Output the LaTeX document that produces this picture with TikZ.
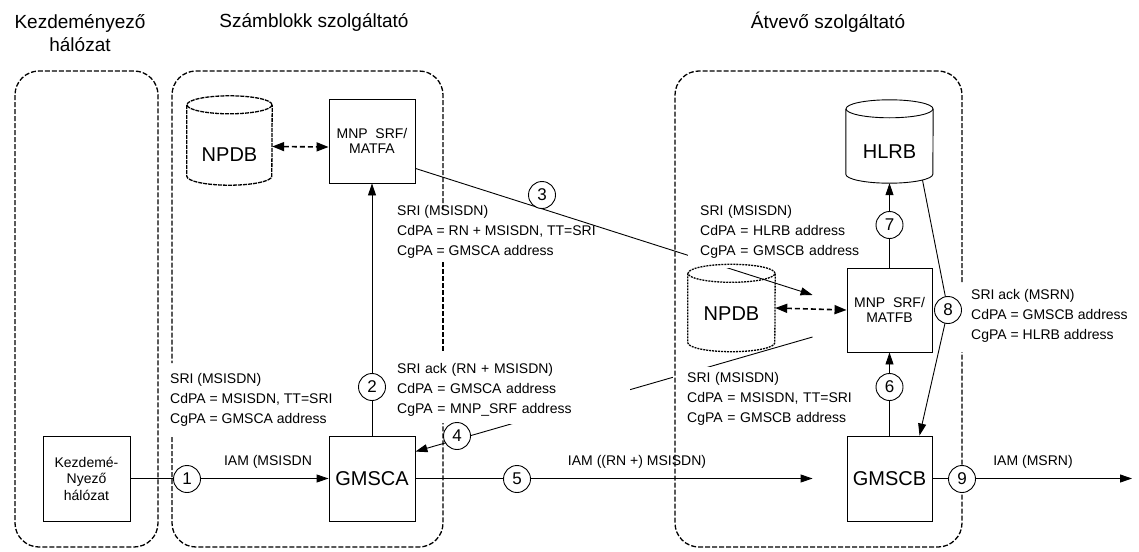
\documentclass[tikz,border=0pt]{standalone}
\usepackage{fontspec}
\setmainfont{Liberation Sans}
\usetikzlibrary{arrows.meta,calc}
\pgfdeclarelayer{bg}
\pgfdeclarelayer{lab}
\pgfsetlayers{bg,lab,main}
\newcommand\cylout[3]{%
  \draw[#3] ($(#1.north west)+(0,9)$) -- ($(#1.south west)+(0,-9)$)
     arc[start angle=180,end angle=360,x radius=#2,y radius=9pt] -- ($(#1.north east)+(0,9)$);
  \draw[#3] ($(#1.north)+(0,9)$) ellipse[x radius=#2, y radius=9pt];
}
\begin{document}
\begin{tikzpicture}[x=1pt,y=-1pt,
  box/.style={draw, line width=0.9pt, inner sep=0pt, align=center},
  small/.style={font=\fontsize{14}{15}\selectfont},
  big/.style={font=\fontsize{20}{24}\selectfont},
  cylbox/.style={inner sep=0pt, font=\fontsize{20}{24}\selectfont},
  num/.style={circle, draw, fill=white, line width=0.9pt, minimum size=27pt, inner sep=0pt, font=\fontsize{17}{17}\selectfont},
  lbl/.style={font=\fontsize{14}{20}\selectfont, align=left, inner sep=0pt, anchor=north west},
  mask/.style={font=\fontsize{14}{20}\selectfont, align=left, fill=white, inner ysep=0pt, anchor=north west},
  iam/.style={font=\fontsize{14}{16}\selectfont, inner sep=0pt},
  arr/.style={line width=0.9pt, -{Triangle[length=12pt,width=8pt]}},
  darr/.style={line width=1.6pt, dash pattern=on 5pt off 3pt, {Triangle[length=12pt,width=9pt]}-{Triangle[length=12pt,width=9pt]}},
  region/.style={line width=1.3pt, dash pattern=on 5pt off 2pt, rounded corners=24pt},
  title/.style={font=\fontsize{19}{23}\selectfont, align=center},
  npdbline/.style={line width=1.3pt, dash pattern=on 4pt off 1pt},
  npdbdot/.style={line width=1.3pt, dash pattern=on 2pt off 1pt},
  hlrbline/.style={line width=0.9pt}
]
\useasboundingbox (0,0) rectangle (1139,551);

% titles
\node[title] (t1) at (80,33.5) {Kezdeményező\\hálózat};
\node[title] (t2) at (314,22) {Számblokk szolgáltató};
\node[title] (t3) at (828,22) {Átvevő szolgáltató};

% regions
\draw[region] (15,71) rectangle (158,547);
\draw[region] (443,210) -- (443,71) -- (172,71) -- (172,363);
\draw[region] (172,437) -- (172,547) -- (443,547) -- (443,423);
\draw[region] (443,262) -- (443,352);
\draw[region] (962,282) -- (962,71) -- (675,71) -- (675,547) -- (962,547) -- (962,352);

% nodes
\node[box, font=\fontsize{14}{16.5}\selectfont, minimum width=87pt, minimum height=85pt] (kez) at (86.5,478.5) {Kezdemé-\\Nyező\\hálózat};
\node[box, big, minimum width=86pt, minimum height=85pt] (gmsca) at (372,478.5) {GMSCA};
\node[box, small, minimum width=86pt, minimum height=84pt] (matfa) at (372,141) {MNP\ \ SRF/\\MATFA};
\node[box, big, minimum width=85pt, minimum height=85pt] (gmscb) at (889.5,478.5) {GMSCB};
\node[box, small, minimum width=85pt, minimum height=84pt] (matfb) at (889.5,310) {MNP\ \ SRF/\\MATFB};
\node[cylbox, minimum width=85pt, minimum height=89pt, text height=41pt] (npdbL) at (229.5,140.5) {NPDB};
\node[cylbox, minimum width=87pt, minimum height=83pt, text height=34pt] (hlrb) at (889.5,141.5) {HLRB};
\node[cylbox, minimum width=87pt, minimum height=87pt, text height=24pt] (npdbR) at (731.5,308) {NPDB};
\cylout{npdbL}{42.5pt}{npdbline}
\cylout{hlrb}{43.5pt}{hlrbline}
\cylout{npdbR}{43.5pt}{npdbdot}

% background connectors (partly hidden by label boxes)
\begin{pgfonlayer}{bg}
\draw[arr] ($(matfa.south east)+(0,-15)$) -- ($(matfb.west)+(-34,-15)$);
\draw[arr] ($(matfb.west)+(-34,27)$) -- ($(gmsca.north east)+(0,16)$);
\end{pgfonlayer}

% labels
\begin{pgfonlayer}{lab}
\node[mask, inner xsep=5pt, text width=228pt, minimum height=69pt] (lab3) at (392,355)
  {SRI ack (RN + MSISDN)\\CdPA = GMSCA address\\CgPA = MNP\_SRF address};
\node[mask, inner xsep=12pt, text width=168pt, minimum height=72pt] (lab4) at (688,196)
  {SRI (MSISDN)\\CdPA = HLRB address\\CgPA = GMSCB address};
\node[mask, inner xsep=14pt, text width=169pt, minimum height=63pt] (lab5) at (673,367)
  {SRI (MSISDN)\\CdPA = MSISDN, TT=SRI\\CgPA = GMSCB address};
\end{pgfonlayer}
\node[lbl] (lab1) at (170,373) {SRI (MSISDN)\\CdPA = MSISDN, TT=SRI\\CgPA = GMSCA address};
\node[lbl] (lab2) at (397,205) {SRI (MSISDN)\\CdPA = RN + MSISDN, TT=SRI\\CgPA = GMSCA address};
\node[lbl] (lab6) at (971,289) {SRI ack (MSRN)\\CdPA = GMSCB address\\CgPA = HLRB address};
\node[iam] (iam1) at (268,462) {IAM (MSISDN};
\node[iam] (iam5) at (637,462) {IAM ((RN +) MSISDN)};
\node[iam] (iam9) at (1033,462) {IAM (MSRN)};

% connectors
\coordinate (h8) at ($(hlrb.south)+(33,-3)$);
\coordinate (p8) at (948,310);
\coordinate (g8) at ($(gmscb.north)+(30,0)$);
\coordinate (out9) at (1132,478.5);
\draw[arr] (kez.east) -- (gmsca.west);
\draw[arr] (gmsca.north) -- (matfa.south);
\draw[arr, shorten >=34pt] (gmsca.east) -- (gmscb.west);
\draw[arr] (gmscb.north) -- (matfb.south);
\draw[arr] (matfb.north) -- (hlrb.south);
\draw[arr] (h8) -- (p8) -- (g8);
\draw[arr] (gmscb.east) -- (out9);
\draw[darr] ($(npdbL.east)+(0,6)$) -- ($(matfa.west)+(0,6)$);
\draw[darr] (npdbR.east) -- (matfb.west);

% step numbers
\node[num] (c1) at (187,479) {1};
\node[num] (c2) at (372,387) {2};
\node[num] (c3) at (542,195) {3};
\node[num] (c4) at (457,436) {4};
\node[num] (c5) at (517,479) {5};
\node[num] (c6) at (889.5,387) {6};
\node[num] (c7) at (889.5,225) {7};
\node[num] (c8) at (p8) {8};
\node[num] (c9) at (962,479) {9};
\end{tikzpicture}
\end{document}
